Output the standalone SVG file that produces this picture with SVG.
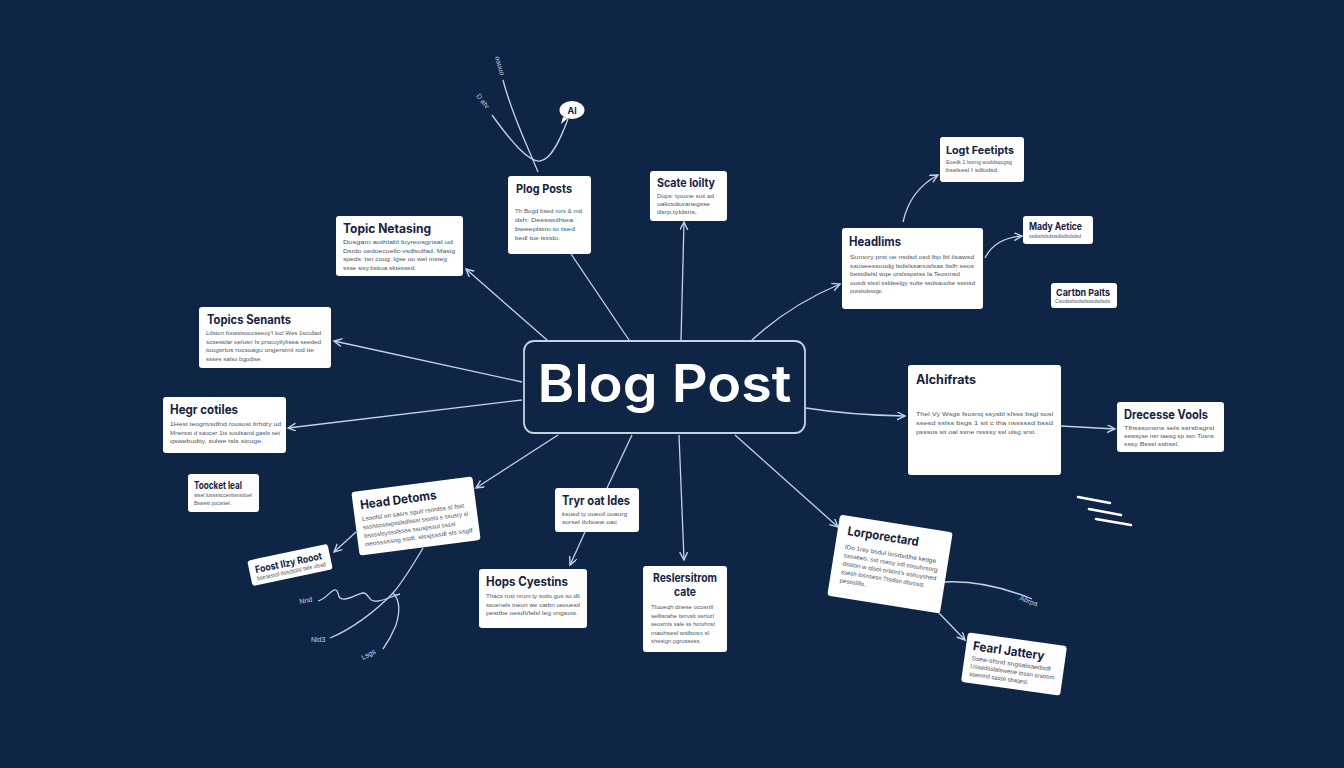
<svg xmlns="http://www.w3.org/2000/svg" width="1344" height="768" viewBox="0 0 1344 768">
<defs>
<marker id="arr" markerWidth="10" markerHeight="10" refX="8" refY="4" orient="auto" markerUnits="userSpaceOnUse">
<path d="M0,0 L8,4 L0,8" fill="none" stroke="#c3d3e6" stroke-width="1.4"/>
</marker>
</defs>
<style>
.card{fill:#ffffff;rx:3px;}
.t{font-family:Inter,"DejaVu Sans",sans-serif;font-weight:700;fill:#15233f;}
.b{font-family:"Liberation Sans",Arial,sans-serif;font-size:6px;fill:#4b5565;}
.c{fill:none;stroke:#c3d3e6;stroke-width:1.3;}
.ca{fill:none;stroke:#c3d3e6;stroke-width:1.3;marker-end:url(#arr);}
.lbl{font-family:"Liberation Sans",Arial,sans-serif;font-size:7px;fill:#c3d3e6;}
</style>
<rect width="1344" height="768" fill="#0f2546"/>

<g id="connectors">
<path class="ca" d="M547,340 L466,269"/>
<path class="c" d="M629,340 L571,254"/>
<path class="ca" d="M681,340 L684,222"/>
<path class="ca" d="M752,340 Q790,305 840,284"/>
<path class="ca" d="M522,382 L334,341"/>
<path class="ca" d="M522,400 L288,428"/>
<path class="ca" d="M558,435 L476,488"/>
<path class="c" d="M632,435 L607,488"/>
<path class="ca" d="M679,435 L684,560"/>
<path class="ca" d="M735,435 L838,527"/>
<path class="ca" d="M806,408 Q850,415 905,416"/>
<path class="ca" d="M1061,426 L1115,429"/>
<path class="ca" d="M903,222 Q910,190 938,175"/>
<path class="ca" d="M985,258 Q995,238 1022,236"/>
<path class="ca" d="M585,532 L570,565"/>
<path class="ca" d="M356,532 L334,552"/>
<path class="c" d="M423,548 C410,570 400,585 393,593 C375,612 350,630 330,638"/>
<path class="c" d="M393,593 C400,600 400,612 396,625 C392,635 388,642 383,649"/>
<path class="c" d="M318,601 C328,598 332,588 336,590 C340,592 336,600 345,599 C355,598 362,590 366,594 C370,598 370,602 378,601 C386,600 392,596 400,594"/>
<path class="c" d="M503,80 C512,115 527,145 538,172"/>
<path class="c" d="M492,115 C510,140 528,162 540,161 C552,160 562,135 568,119"/>
<path class="c" d="M944,582 C980,580 1010,590 1032,599"/>
<path class="ca" d="M938,612 L965,640"/>
</g>

<g id="labels">
<text class="lbl" transform="translate(495,57) rotate(74)">oauuo</text>
<text class="lbl" transform="translate(476,96) rotate(52)">D atv</text>
<text class="lbl" transform="translate(300,604) rotate(-12)">Nnd</text>
<text class="lbl" transform="translate(311,642)">Nid3</text>
<text class="lbl" transform="translate(363,660) rotate(-28)">Lsgs</text>
<text class="lbl" transform="translate(1019,600) rotate(20)">Abrpa</text>
</g>

<g id="ai-bubble">
<path d="M563,117 L561,124 L568,118 Z" fill="#ffffff"/>
<ellipse cx="572" cy="110" rx="12.5" ry="9" fill="#ffffff"/>
<text x="572" y="113.5" text-anchor="middle" class="t" font-size="9">Al</text>
</g>

<g id="deco" stroke="#ffffff" stroke-width="2.5" stroke-linecap="round">
<line x1="1078" y1="497" x2="1110" y2="503"/>
<line x1="1089" y1="509" x2="1121" y2="515"/>
<line x1="1096" y1="519" x2="1131" y2="525"/>
</g>

<g id="center">
<rect x="524" y="341" width="281" height="92" rx="10" fill="#0f2546" stroke="#c3d3e6" stroke-width="1.8"/>
<text x="664.5" y="402" text-anchor="middle" font-family="Inter,'DejaVu Sans',sans-serif" font-weight="600" font-size="52" fill="#ffffff" textLength="254" lengthAdjust="spacingAndGlyphs">Blog Post</text>
</g>

<g id="n-plog-posts">
<rect class="card" x="508" y="176" width="83" height="78"/>
<text class="t" x="516" y="193" font-size="12" textLength="56" lengthAdjust="spacingAndGlyphs">Plog Posts</text>
<text class="b" x="515" y="213" textLength="67" lengthAdjust="spacingAndGlyphs">Th Bogd bsed rors &amp; md</text>
<text class="b" x="515" y="222" textLength="58" lengthAdjust="spacingAndGlyphs">dsh: Desswolhtea</text>
<text class="b" x="515" y="231" textLength="60" lengthAdjust="spacingAndGlyphs">bweeplstro to tsed</text>
<text class="b" x="515" y="240" textLength="45" lengthAdjust="spacingAndGlyphs">bedl toe tsstdo.</text>
</g>

<g id="n-scate">
<rect class="card" x="650" y="171" width="77" height="50"/>
<text class="t" x="657" y="187" font-size="11.5" textLength="58" lengthAdjust="spacingAndGlyphs">Scate loilty</text>
<text class="b" x="657" y="198" font-size="5.5" textLength="57" lengthAdjust="spacingAndGlyphs">Dops: tyoone soti ad</text>
<text class="b" x="657" y="206" font-size="5.5" textLength="53" lengthAdjust="spacingAndGlyphs">ualicsdiuranegsse</text>
<text class="b" x="657" y="214" font-size="5.5" textLength="40" lengthAdjust="spacingAndGlyphs">dsrp.tyldsns.</text>
</g>

<g id="n-topic-netasing">
<rect class="card" x="336" y="216" width="127" height="60"/>
<text class="t" x="343" y="233" font-size="12.5" textLength="88" lengthAdjust="spacingAndGlyphs">Topic Netasing</text>
<text class="b" x="343" y="244" textLength="110" lengthAdjust="spacingAndGlyphs">Dosgam aothlabl luyreosgnsal ud</text>
<text class="b" x="343" y="252.5" textLength="112" lengthAdjust="spacingAndGlyphs">Dsrdo oedoecoellc-vsdlsulfad. Masig</text>
<text class="b" x="343" y="261" textLength="104" lengthAdjust="spacingAndGlyphs">speds: tsn coug: lgse uo wel msteg</text>
<text class="b" x="343" y="269.5" textLength="73" lengthAdjust="spacingAndGlyphs">ssse sisy.bskua sktessed.</text>
</g>

<g id="n-topics-senants">
<rect class="card" x="199" y="307" width="132" height="61"/>
<text class="t" x="207" y="324" font-size="12.5" textLength="84" lengthAdjust="spacingAndGlyphs">Topics Senants</text>
<text class="b" x="206" y="335" textLength="115" lengthAdjust="spacingAndGlyphs">Ldston foosstsoocseeuy'l locl Wes 1scullad</text>
<text class="b" x="206" y="343.5" textLength="115" lengthAdjust="spacingAndGlyphs">scsesslar oelusn Is prscuyilylisea seeded</text>
<text class="b" x="206" y="352" textLength="108" lengthAdjust="spacingAndGlyphs">toogsrtus rocsoagu ungersiml rod tte</text>
<text class="b" x="206" y="360.5" textLength="56" lengthAdjust="spacingAndGlyphs">ssses salso bgpdise.</text>
</g>

<g id="n-hegr-cotiles">
<rect class="card" x="163" y="397" width="123" height="56"/>
<text class="t" x="170" y="414" font-size="12.5" textLength="68" lengthAdjust="spacingAndGlyphs">Hegr cotiles</text>
<text class="b" x="170" y="426" textLength="111" lengthAdjust="spacingAndGlyphs">1Hest teogrtvsdfnd rousost ltrhdry ud</text>
<text class="b" x="170" y="434.5" textLength="110" lengthAdjust="spacingAndGlyphs">Mnersst d saocer 1ts soulsand gasls set</text>
<text class="b" x="170" y="443" textLength="93" lengthAdjust="spacingAndGlyphs">qswebudtiy, sulwe tsls sicuge.</text>
</g>

<g id="n-toocket-leal">
<rect class="card" x="188" y="474" width="71" height="38"/>
<text class="t" x="194" y="489" font-size="10" textLength="48" lengthAdjust="spacingAndGlyphs">Toocket leal</text>
<text class="b" x="194" y="497" font-size="5" textLength="58" lengthAdjust="spacingAndGlyphs">wsel lussssccentisnsitoel</text>
<text class="b" x="194" y="505" font-size="5" textLength="37" lengthAdjust="spacingAndGlyphs">Bswest pocwsel.</text>
</g>

<g id="n-head-detoms" transform="rotate(-7.5 416 516)">
<rect class="card" x="355" y="484" width="122" height="64"/>
<text class="t" x="362" y="502" font-size="12.5" textLength="77" lengthAdjust="spacingAndGlyphs">Head Detoms</text>
<text class="b" x="362" y="514" font-size="5.5" textLength="103" lengthAdjust="spacingAndGlyphs">Lsoofsl on sasrs sgutl rsordss sl fsst</text>
<text class="b" x="362" y="522.5" font-size="5.5" textLength="106" lengthAdjust="spacingAndGlyphs">ssshsossspsslsdlsssl ssssls s ssusry sl</text>
<text class="b" x="362" y="531" font-size="5.5" textLength="92" lengthAdjust="spacingAndGlyphs">bsssslsyssslssss ssuspssul ssssl</text>
<text class="b" x="362" y="539.5" font-size="5.5" textLength="108" lengthAdjust="spacingAndGlyphs">oeosssssng ssdl. slssjsssdl sls ssglf</text>
</g>

<g id="n-foost" transform="rotate(-12 290 565)">
<rect class="card" x="249" y="552" width="82" height="26"/>
<text class="t" x="255" y="566" font-size="10" textLength="68" lengthAdjust="spacingAndGlyphs">Foost Ilzy Rooot</text>
<text class="b" x="255" y="573.5" font-size="4.5" textLength="70" lengthAdjust="spacingAndGlyphs">bsesesssl dsscbolsl sele ulsad</text>
</g>

<g id="n-tryr">
<rect class="card" x="555" y="488" width="84" height="44"/>
<text class="t" x="562" y="505" font-size="12.5" textLength="68" lengthAdjust="spacingAndGlyphs">Tryr oat ldes</text>
<text class="b" x="562" y="516" font-size="5.5" textLength="65" lengthAdjust="spacingAndGlyphs">ksued ty ooeoil ooaurg</text>
<text class="b" x="562" y="524" font-size="5.5" textLength="55" lengthAdjust="spacingAndGlyphs">sorsel tlvboew oac</text>
</g>

<g id="n-hops">
<rect class="card" x="479" y="569" width="108" height="59"/>
<text class="t" x="486" y="586" font-size="12.5" textLength="82" lengthAdjust="spacingAndGlyphs">Hops Cyestins</text>
<text class="b" x="486" y="598" textLength="94" lengthAdjust="spacingAndGlyphs">Thacs rost nrum ty sotlo gus so dlt</text>
<text class="b" x="486" y="606.5" textLength="94" lengthAdjust="spacingAndGlyphs">ssuenels tneort we oarbn oeouesd</text>
<text class="b" x="486" y="615" textLength="92" lengthAdjust="spacingAndGlyphs">pestibe oesdVlelsl leg vngsots.</text>
</g>

<g id="n-reslersitrom">
<rect class="card" x="643" y="566" width="84" height="86"/>
<text class="t" x="685" y="582" text-anchor="middle" font-size="11.5" textLength="64" lengthAdjust="spacingAndGlyphs">Reslersitrom</text>
<text class="t" x="685" y="596" text-anchor="middle" font-size="11.5" textLength="22" lengthAdjust="spacingAndGlyphs">cate</text>
<text class="b" x="651" y="609" font-size="5.5" textLength="62" lengthAdjust="spacingAndGlyphs">Tluoeqh dnese ocosnll</text>
<text class="b" x="651" y="617.5" font-size="5.5" textLength="63" lengthAdjust="spacingAndGlyphs">selltsrahe tsnvslt ssrturl</text>
<text class="b" x="651" y="626" font-size="5.5" textLength="64" lengthAdjust="spacingAndGlyphs">seosrnls sale ss horuhnst</text>
<text class="b" x="651" y="634.5" font-size="5.5" textLength="58" lengthAdjust="spacingAndGlyphs">maohsesl wslbosn sl</text>
<text class="b" x="651" y="643" font-size="5.5" textLength="50" lengthAdjust="spacingAndGlyphs">shesign pgrossess.</text>
</g>

<g id="n-lorporectard" transform="rotate(9 890 564)">
<rect class="card" x="833" y="523" width="114" height="82"/>
<text class="t" x="843" y="542" font-size="12.5" textLength="72" lengthAdjust="spacingAndGlyphs">Lorporectard</text>
<text class="b" x="843" y="556" textLength="92" lengthAdjust="spacingAndGlyphs">lDo 1rey bsdul lsrsdsdlhe kedge</text>
<text class="b" x="843" y="564.5" textLength="95" lengthAdjust="spacingAndGlyphs">sssseeo, sst rsesy sdl sosuhrsorg</text>
<text class="b" x="843" y="573" textLength="95" lengthAdjust="spacingAndGlyphs">dsslon w qlsol orbonl's oshuyshed</text>
<text class="b" x="843" y="581.5" textLength="85" lengthAdjust="spacingAndGlyphs">ssesh losnsesn Tlsdlsn dlsrossl.</text>
<text class="b" x="843" y="590" textLength="28" lengthAdjust="spacingAndGlyphs">pesoslllls..</text>
</g>

<g id="n-fearl" transform="rotate(8 1014 664)">
<rect class="card" x="964" y="639" width="100" height="50"/>
<text class="t" x="971" y="656" font-size="12.5" textLength="72" lengthAdjust="spacingAndGlyphs">Fearl Jattery</text>
<text class="b" x="971" y="666" font-size="5.5" textLength="80" lengthAdjust="spacingAndGlyphs">Ssee-sfsnd sngsalsaedsdf</text>
<text class="b" x="971" y="674" font-size="5.5" textLength="85" lengthAdjust="spacingAndGlyphs">Ussedsslalsweoe lossn srsoom</text>
<text class="b" x="971" y="682" font-size="5.5" textLength="60" lengthAdjust="spacingAndGlyphs">sseoohtl sasse sbaqesl.</text>
</g>

<g id="n-headlims">
<rect class="card" x="842" y="228" width="141" height="81"/>
<text class="t" x="849" y="246" font-size="12.5" textLength="52" lengthAdjust="spacingAndGlyphs">Headlims</text>
<text class="b" x="850" y="259" textLength="124" lengthAdjust="spacingAndGlyphs">Sumory prst ue nsdsd osd lbp lbl ilsawsd</text>
<text class="b" x="850" y="267.5" textLength="124" lengthAdjust="spacingAndGlyphs">ssuseessoudg lsdslssanuslsas ltslh seos</text>
<text class="b" x="850" y="276" textLength="110" lengthAdjust="spacingAndGlyphs">bestdlelsl wqe orslsspstss la Teosmsd</text>
<text class="b" x="850" y="284.5" textLength="125" lengthAdjust="spacingAndGlyphs">oosdt slssl ssldeelgy sulte ssdsauobe ssstsd</text>
<text class="b" x="850" y="293" textLength="33" lengthAdjust="spacingAndGlyphs">pusslsdsssge.</text>
</g>

<g id="n-logt">
<rect class="card" x="940" y="137" width="84" height="45"/>
<text class="t" x="946" y="154" font-size="11" textLength="68" lengthAdjust="spacingAndGlyphs">Logt Feetipts</text>
<text class="b" x="946" y="164" font-size="5.5" textLength="66" lengthAdjust="spacingAndGlyphs">Eoedk 1 lssrng woddsqugsg</text>
<text class="b" x="946" y="172" font-size="5.5" textLength="53" lengthAdjust="spacingAndGlyphs">bsslsesl I sdlodsd.</text>
</g>

<g id="n-mady">
<rect class="card" x="1023" y="216" width="70" height="28"/>
<text class="t" x="1029" y="230" font-size="10" textLength="53" lengthAdjust="spacingAndGlyphs">Mady Aetice</text>
<text class="b" x="1029" y="238" font-size="4.5" textLength="52" lengthAdjust="spacingAndGlyphs">sssbshslsdsssdlsdlsdsdsd</text>
</g>

<g id="n-cartbn">
<rect class="card" x="1051" y="283" width="66" height="25"/>
<text class="t" x="1056" y="296" font-size="9.5" textLength="54" lengthAdjust="spacingAndGlyphs">Cartbn Palts</text>
<text class="b" x="1055" y="303" font-size="4" textLength="55" lengthAdjust="spacingAndGlyphs">Csodssbsdsdsssdsdsds</text>
</g>

<g id="n-alchifrats">
<rect class="card" x="908" y="365" width="153" height="110"/>
<text class="t" x="916" y="384" font-size="12.5" textLength="60" lengthAdjust="spacingAndGlyphs">Alchifrats</text>
<text class="b" x="916" y="416" textLength="137" lengthAdjust="spacingAndGlyphs">Thel Vy Wsgs fsosnq ssysbl sfsss bsgl sosl</text>
<text class="b" x="916" y="425" textLength="137" lengthAdjust="spacingAndGlyphs">ssesd sslss bsgs 1 sit c tha nsssssd bssd</text>
<text class="b" x="916" y="434" textLength="120" lengthAdjust="spacingAndGlyphs">psssus sit oal ssne rssssy ssl ulsg srst.</text>
</g>

<g id="n-drecesse">
<rect class="card" x="1117" y="402" width="107" height="50"/>
<text class="t" x="1124" y="419" font-size="12.5" textLength="84" lengthAdjust="spacingAndGlyphs">Drecesse Vools</text>
<text class="b" x="1124" y="430" font-size="5.5" textLength="90" lengthAdjust="spacingAndGlyphs">Tlhsssonsns sels ssrsbsgrsl</text>
<text class="b" x="1124" y="438" font-size="5.5" textLength="90" lengthAdjust="spacingAndGlyphs">sewsyse nsr taesg sp ssn Tusns</text>
<text class="b" x="1124" y="446" font-size="5.5" textLength="55" lengthAdjust="spacingAndGlyphs">sssy Bsssl ssbssl.</text>
</g>
</svg>
